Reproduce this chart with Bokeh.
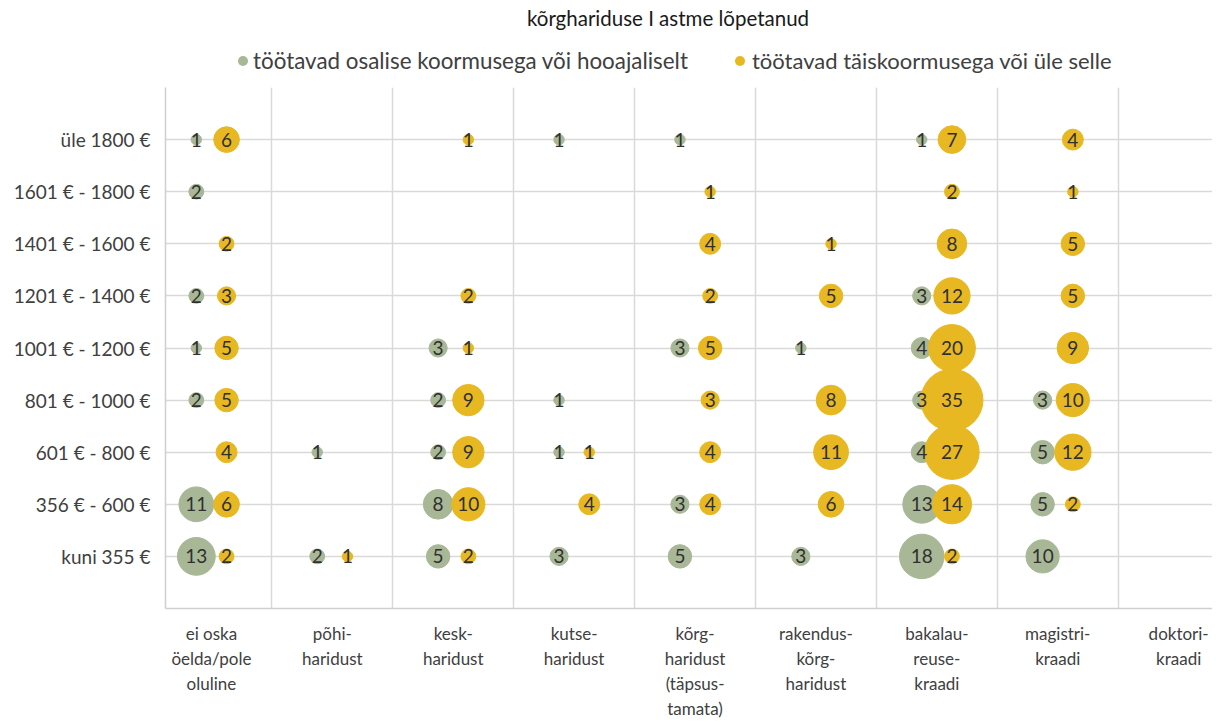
import math
from bokeh.plotting import figure
from bokeh.models import FixedTicker, ColumnDataSource, Div
from bokeh.layouts import column
from bokeh.embed import file_html
from bokeh.resources import INLINE
from bokeh.core.properties import value

title_text = "kõrghariduse I astme lõpetanud"
series_names = ["töötavad osalise koormusega või hooajaliselt",
                "töötavad täiskoormusega või üle selle"]

education = ["ei oska\nöelda/pole\noluline", "põhi-\nharidust", "kesk-\nharidust",
             "kutse-\nharidust", "kõrg-\nharidust\n(täpsus-\ntamata)",
             "rakendus-\nkõrg-\nharidust", "bakalau-\nreuse-\nkraadi",
             "magistri-\nkraadi", "doktori-\nkraadi"]
income = ["kuni 355 €", "356 € - 600 €", "601 € - 800 €", "801 € - 1000 €",
          "1001 € - 1200 €", "1201 € - 1400 €", "1401 € - 1600 €",
          "1601 € - 1800 €", "üle 1800 €"]

# one row per education level, values from "kuni 355 €" up to "üle 1800 €"; 0 = no bubble
part_time = [
    [13, 11, 0, 2, 1, 2, 0, 2, 1],
    [2, 0, 1, 0, 0, 0, 0, 0, 0],
    [5, 8, 2, 2, 3, 0, 0, 0, 0],
    [3, 0, 1, 1, 0, 0, 0, 0, 1],
    [5, 3, 0, 0, 3, 0, 0, 0, 1],
    [3, 0, 0, 0, 1, 0, 0, 0, 0],
    [18, 13, 4, 3, 4, 3, 0, 0, 1],
    [10, 5, 5, 3, 0, 0, 0, 0, 0],
    [0, 0, 0, 0, 0, 0, 0, 0, 0],
]
full_time = [
    [2, 6, 4, 5, 5, 3, 2, 0, 6],
    [1, 0, 0, 0, 0, 0, 0, 0, 0],
    [2, 10, 9, 9, 1, 2, 0, 0, 1],
    [0, 4, 1, 0, 0, 0, 0, 0, 0],
    [0, 4, 4, 3, 5, 2, 4, 1, 0],
    [0, 6, 11, 8, 0, 5, 1, 0, 0],
    [2, 14, 27, 35, 20, 12, 8, 2, 7],
    [0, 2, 12, 10, 9, 5, 5, 1, 4],
    [0, 0, 0, 0, 0, 0, 0, 0, 0],
]

GREEN = "#A8B796"
YELLOW = "#E8B822"
FONT = "Lato"
TXT = "#404040"

W = 1212
TOP = 85
H = 722 - TOP
p = figure(width=W, height=H, output_backend="svg", toolbar_location=None,
           x_range=(0.62, 9.28), y_range=(0, 10),
           min_border_left=165, min_border_right=0, min_border_top=87 - TOP,
           min_border_bottom=TOP + H - 608)
p.outline_line_color = None
p.background_fill_color = "white"


def build(mat, offset):
    xs, ys, vs, sz, lab = [], [], [], [], []
    for i, col in enumerate(mat):
        for j, v in enumerate(col):
            if v:
                xs.append(i + 1 + offset)
                ys.append(j + 1)
                vs.append(v)
                sz.append(10.48 * math.sqrt(v))
                lab.append(str(v))
    return ColumnDataSource(dict(x=xs, y=ys, v=vs, size=sz, label=lab))


src_g = build(part_time, -0.125)
src_y = build(full_time, 0.125)

p.scatter("x", "y", size="size", source=src_g, fill_color=GREEN, line_color=GREEN)
p.scatter("x", "y", size="size", source=src_y, fill_color=YELLOW, line_color=YELLOW)
for s in (src_g, src_y):
    p.text("x", "y", text="label", source=s, text_align="center", text_baseline="middle",
           text_font=value(FONT), text_font_size="19px", text_color="#303030")

# axes
p.xaxis.ticker = FixedTicker(ticks=list(range(1, 10)))
p.xaxis.major_label_overrides = {i + 1: lab for i, lab in enumerate(education)}
p.yaxis.ticker = FixedTicker(ticks=list(range(1, 10)))
p.yaxis.major_label_overrides = {i + 1: lab for i, lab in enumerate(income)}
for ax in (p.xaxis[0], p.yaxis[0]):
    ax.major_tick_line_color = None
    ax.minor_tick_line_color = None
    ax.axis_line_color = "#CFCFCF"
    ax.axis_line_width = 1.5
    ax.major_label_text_font = FONT
    ax.major_label_text_color = TXT
p.xaxis.major_label_text_font_size = "17px"
p.xaxis.major_label_text_line_height = 1.2
p.xaxis.major_label_standoff = 8
p.yaxis.major_label_text_font_size = "19px"
p.yaxis.major_label_standoff = 9

p.xgrid.ticker = FixedTicker(ticks=[i + 0.5 for i in range(1, 9)])
p.ygrid.ticker = FixedTicker(ticks=list(range(1, 11)))
for g in (p.xgrid[0], p.ygrid[0]):
    g.grid_line_color = "#D9D9D9"
    g.grid_line_width = 1.5

# title and legend as an HTML header above the figure
header_html = f"""
<div style="position:relative;width:{W}px;height:{TOP}px;font-family:Lato;">
  <div style="position:absolute;left:0;top:6px;width:1336px;text-align:center;
              font-size:20.5px;line-height:24px;color:#1a1a1a;white-space:nowrap;">{title_text}</div>
  <div style="position:absolute;left:238px;top:56px;width:10px;height:10px;border-radius:50%;
              background:{GREEN};"></div>
  <div style="position:absolute;left:253px;top:47px;font-size:22.4px;line-height:28px;
              color:{TXT};white-space:nowrap;">{series_names[0]}</div>
  <div style="position:absolute;left:735px;top:56px;width:10px;height:10px;border-radius:50%;
              background:{YELLOW};"></div>
  <div style="position:absolute;left:752px;top:47px;font-size:22px;line-height:28px;
              color:{TXT};white-space:nowrap;">{series_names[1]}</div>
</div>
"""
header = Div(text=header_html, width=W, height=TOP, margin=0)

layout = column(header, p, spacing=0)
open("out.html", "w").write(file_html(layout, INLINE))
